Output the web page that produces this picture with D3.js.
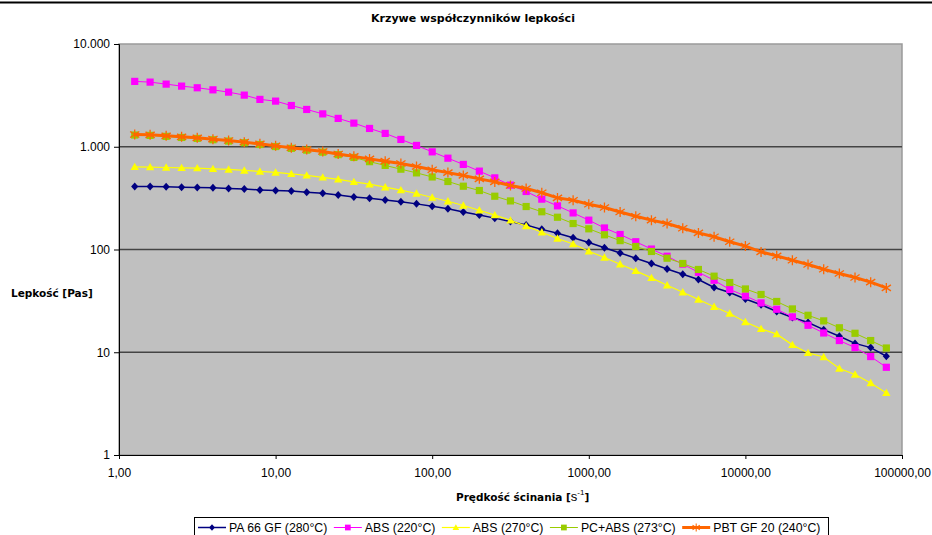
<!DOCTYPE html>
<html>
<head>
<meta charset="utf-8">
<script src="https://cdn.jsdelivr.net/npm/d3@7"></script>
<style>
  body { margin: 0; background: #fff; }
  text { font-family: "Liberation Sans", Arial, sans-serif; fill: #000; }
  .title { font-family: "DejaVu Sans", Verdana, sans-serif; font-weight: bold; }
</style>
</head>
<body>
<div id="chart"></div>
<script>
// shear rate [1/s], 10 points per decade
const shearRate = [1.26, 1.58, 2.00, 2.51, 3.16, 3.98, 5.01, 6.31, 7.94,
    10.0, 12.6, 15.8, 20.0, 25.1, 31.6, 39.8, 50.1, 63.1, 79.4,
    100, 126, 158, 200, 251, 316, 398, 501, 631, 794,
    1000, 1259, 1585, 1995, 2512, 3162, 3981, 5012, 6310, 7943,
    10000, 12589, 15849, 19953, 25119, 31623, 39811, 50119, 63096, 79433];

const seriesNames = ["PA 66 GF (280\u00B0C)", "ABS (220\u00B0C)", "ABS (270\u00B0C)",
    "PC+ABS (273\u00B0C)", "PBT GF 20 (240\u00B0C)"];

// viscosity [Pa s]
const pa66gf280 = [411, 410, 407, 404, 402, 398, 393, 387, 380, 375, 370, 361, 353, 340, 325,
    316, 304, 291, 278, 264, 249, 232, 217, 202, 187, 173, 157, 144, 130, 117, 104, 92.6,
    82.3, 73.1, 64.7, 57.5, 51.1, 42.7, 38.2, 33.0, 29.0, 24.9, 21.8, 19.5, 16.6, 14.3,
    12.2, 11.1, 9.14];
const abs220 = [4325, 4256, 4070, 3890, 3750, 3580, 3400, 3180, 2890, 2780, 2520, 2307,
    2090, 1888, 1698, 1507, 1348, 1178, 1030, 892, 774, 673, 579, 498, 423, 367, 309, 266,
    227, 193, 162, 140, 119, 101, 86, 72, 60, 50.2, 40.8, 35.3, 30.2, 26.2, 22.1, 18.3,
    15.4, 13.0, 11.1, 9.08, 7.14];
const abs270 = [637, 633, 628, 623, 619, 609, 601, 588, 575, 562, 545, 526, 503, 482, 455,
    432, 404, 378, 351, 321, 295, 268, 241, 216, 192, 169, 147, 128, 113, 96.2, 83.5, 71.9,
    61.9, 52.9, 44.9, 38.4, 32.6, 27.7, 23.8, 19.7, 16.9, 15.0, 11.8, 9.85, 9.0, 6.94,
    6.07, 5.02, 4.02];
const pcabs273 = [1300, 1290, 1262, 1232, 1205, 1170, 1136, 1094, 1052, 1005, 965, 927,
    886, 838, 787, 716, 658, 605, 557, 508, 459, 413, 375, 330, 297, 262, 233, 206, 179,
    159, 139, 122, 107, 95.7, 82.3, 73.1, 63.9, 55.0, 47.7, 41.3, 36.5, 31.2, 26.4, 22.9,
    20.2, 17.3, 15.3, 13.0, 11.0];
const pbtgf20 = [1318, 1306, 1277, 1248, 1221, 1186, 1151, 1109, 1067, 1020, 979, 941,
    900, 851, 806, 762, 724, 688, 643, 598, 560, 526, 487, 455, 420, 393, 357, 318, 302,
    276, 256, 232, 211, 193, 179, 161, 145, 133, 119, 108, 94.8, 86.7, 78.7, 71.5, 64.3,
    58.4, 53.4, 48.1, 42.3];

const xTicks = [1, 10, 100, 1000, 10000, 100000];
const yTicks = [1, 10, 100, 1000, 10000];

const WIDTH = 932, HEIGHT = 535;
const PLOT = {left: 119, right: 902, top: 44, bottom: 455};

const plLocale = d3.formatLocale({decimal: ",", thousands: ".", grouping: [3], currency: ["", ""]});
const fmtX = plLocale.format(".2f");
const fmtY = plLocale.format(",");

const series = [
    {name: seriesNames[0], values: pa66gf280, color: "#000080", width: 1.5, marker: "diamond"},
    {name: seriesNames[1], values: abs220, color: "#FF00FF", width: 1, marker: "square"},
    {name: seriesNames[2], values: abs270, color: "#FFFF00", width: 1.2, marker: "triangle"},
    {name: seriesNames[3], values: pcabs273, color: "#99CC00", width: 1, marker: "square"},
    {name: seriesNames[4], values: pbtgf20, color: "#FF6600", width: 3, marker: "asterisk"}
];

const svg = d3.select("#chart").append("svg")
    .attr("width", WIDTH)
    .attr("height", HEIGHT);

// page border line at the top
svg.append("line")
    .attr("x1", 0).attr("x2", WIDTH)
    .attr("y1", 2.5).attr("y2", 2.5)
    .attr("stroke", "#000").attr("stroke-width", 2);

const x = d3.scaleLog().domain([1, 100000]).range([PLOT.left, PLOT.right]);
const y = d3.scaleLog().domain([1, 10000]).range([PLOT.bottom, PLOT.top]);

// plot area
svg.append("rect")
    .attr("x", PLOT.left).attr("y", PLOT.top)
    .attr("width", PLOT.right - PLOT.left).attr("height", PLOT.bottom - PLOT.top)
    .attr("fill", "#C0C0C0")
    .attr("stroke", "#9a9a9a").attr("stroke-width", 1.5);

// gridlines
svg.append("g").attr("class", "grid")
    .selectAll("line")
    .data(yTicks.filter(d => d > 1 && d < 10000))
    .join("line")
    .attr("x1", PLOT.left).attr("x2", PLOT.right)
    .attr("y1", d => y(d)).attr("y2", d => y(d))
    .attr("stroke", "#444").attr("stroke-width", 1.7);

// axes
const yAxis = d3.axisLeft(y).tickValues(yTicks).tickFormat(fmtY).tickSize(5).tickPadding(4);
const xAxis = d3.axisBottom(x).tickValues(xTicks).tickFormat(fmtX).tickSize(4).tickPadding(9);

const gy = svg.append("g").attr("transform", `translate(${PLOT.left},0)`).call(yAxis);
const gx = svg.append("g").attr("transform", `translate(0,${PLOT.bottom})`).call(xAxis);
[gx, gy].forEach(g => {
    g.select(".domain").attr("stroke", "#000");
    g.selectAll(".tick line").attr("stroke", "#000");
    g.selectAll(".tick text").style("font-family", '"Liberation Sans", Arial, sans-serif')
        .style("font-size", "12px").attr("fill", "#000");
});

// markers
function markerPath(type) {
    switch (type) {
        case "diamond": return "M0,-4L3.6,0L0,4L-3.6,0Z";
        case "square": return "M-3.6,-3.6H3.6V3.6H-3.6Z";
        case "triangle": return "M0,-4.2L4.2,3.2H-4.2Z";
        case "asterisk": return "M0,-5V5M-4.6,-3L4.6,3M-4.6,3L4.6,-3";
    }
}
function drawMarker(sel, s) {
    if (s.marker === "asterisk") {
        sel.attr("d", markerPath(s.marker)).attr("fill", "none")
            .attr("stroke", s.color).attr("stroke-width", 1.3);
    } else {
        sel.attr("d", markerPath(s.marker)).attr("fill", s.color).attr("stroke", "none");
    }
}

const line = d3.line().x(d => x(d[0])).y(d => y(d[1]));

const gSeries = svg.append("g").attr("class", "series");
series.forEach(s => {
    const pts = shearRate.map((r, i) => [r, s.values[i]]);
    const g = gSeries.append("g");
    g.append("path")
        .attr("d", line(pts))
        .attr("fill", "none")
        .attr("stroke", s.color)
        .attr("stroke-width", s.width);
    g.selectAll("path.marker")
        .data(pts)
        .join("path")
        .attr("class", "marker")
        .attr("transform", d => `translate(${x(d[0])},${y(d[1])})`)
        .call(drawMarker, s);
});

// titles
svg.append("text").attr("class", "title")
    .attr("x", 473).attr("y", 22)
    .attr("text-anchor", "middle")
    .style("font-size", "11px")
    .text("Krzywe wsp\u00F3\u0142czynnik\u00F3w lepko\u015Bci");

svg.append("text").attr("class", "title")
    .attr("x", 11).attr("y", 297)
    .style("font-size", "10.5px")
    .text("Lepko\u015B\u0107 [Pas]");

const xl = svg.append("text").attr("class", "title")
    .attr("x", 456).attr("y", 501)
    .style("font-size", "10.5px");
xl.append("tspan").text("Pr\u0119dko\u015B\u0107 \u015Bcinania [");
xl.append("tspan").style("font-family", '"Liberation Sans", Arial, sans-serif')
    .style("font-weight", "normal").style("font-size", "13px").text("s");
xl.append("tspan").style("font-family", '"Liberation Sans", Arial, sans-serif')
    .style("font-weight", "normal").style("font-size", "8px").attr("dy", -6).text("-1");
xl.append("tspan").attr("dy", 6).text("]");

// legend
const legend = svg.append("g").attr("class", "legend");
legend.append("rect")
    .attr("x", 194.5).attr("y", 517.5)
    .attr("width", 634).attr("height", 22)
    .attr("fill", "#fff").attr("stroke", "#000");

let lx = 198;
const ly = 527.5;
series.forEach(s => {
    const item = legend.append("g");
    item.append("line")
        .attr("x1", lx).attr("x2", lx + 28)
        .attr("y1", ly).attr("y2", ly)
        .attr("stroke", s.color).attr("stroke-width", s.width);
    item.append("path")
        .attr("transform", `translate(${lx + 14},${ly}) scale(0.8)`)
        .call(drawMarker, s);
    const t = item.append("text")
        .attr("x", lx + 31).attr("y", ly + 4.5)
        .style("font-size", "12.3px")
        .text(s.name);
    lx += 31 + t.node().getComputedTextLength() + 6.5;
});
</script>
</body>
</html>
